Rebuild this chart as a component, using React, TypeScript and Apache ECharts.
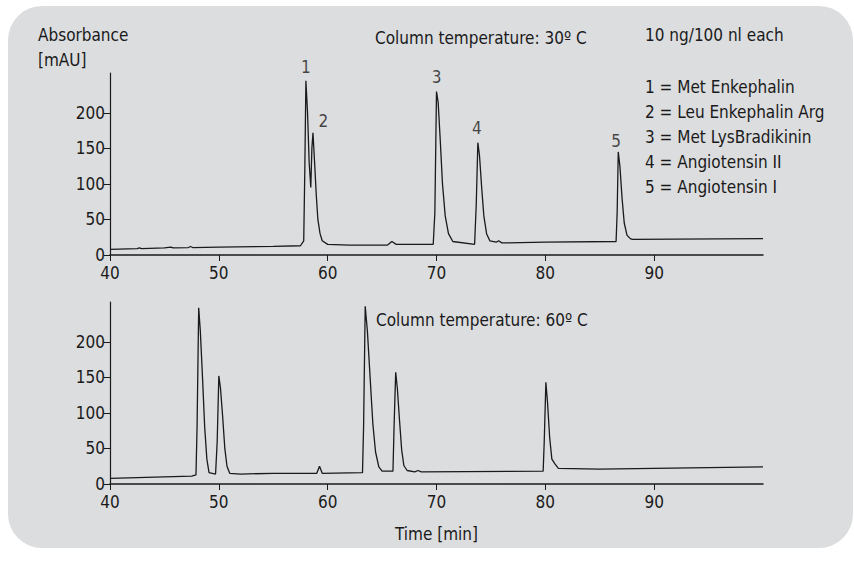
import React, { useEffect, useRef } from 'react';
import * as echarts from 'echarts';

// Chromatogram at 30 °C: [time min, absorbance mAU]
const trace30: [number, number][] = [
  [40, 8], [42.5, 9], [42.7, 10], [42.9, 9], [45, 10], [45.6, 11], [45.8, 10], [47.2, 10.5],
  [47.4, 12], [47.6, 10.5], [50, 11], [55, 12], [57.5, 13], [57.8, 20], [57.9, 120],
  [58.0, 245], [58.15, 200], [58.3, 130], [58.45, 95], [58.55, 150], [58.65, 172],
  [58.8, 130], [58.95, 85], [59.1, 50], [59.3, 30], [59.5, 20], [60, 15], [62, 14],
  [65.5, 14], [65.9, 19], [66.3, 15], [69.7, 15], [69.85, 60], [70.0, 230], [70.15, 215],
  [70.35, 160], [70.55, 100], [70.8, 55], [71.1, 30], [71.5, 19], [73.5, 15], [73.65, 70],
  [73.8, 158], [73.95, 140], [74.15, 95], [74.35, 55], [74.6, 30], [74.9, 20], [75.5, 18],
  [75.7, 20], [76, 17], [80, 18], [86.5, 19], [86.6, 60], [86.7, 145], [86.85, 125],
  [87.05, 80], [87.25, 45], [87.5, 28], [87.8, 23], [88, 22], [100, 23],
];

// Chromatogram at 60 °C
const trace60: [number, number][] = [
  [40, 8], [45, 10], [47.5, 11], [47.9, 13], [48.0, 80], [48.15, 248], [48.3, 215],
  [48.5, 150], [48.7, 80], [48.9, 35], [49.1, 16], [49.7, 14], [49.85, 60], [50.0, 152],
  [50.15, 135], [50.35, 95], [50.55, 50], [50.75, 25], [51, 15], [52, 14], [55, 15],
  [59, 15], [59.25, 25], [59.5, 15], [63.2, 16], [63.3, 80], [63.45, 250], [63.65, 215],
  [63.9, 150], [64.15, 85], [64.4, 45], [64.7, 24], [65, 18], [66, 18], [66.1, 80],
  [66.25, 157], [66.4, 135], [66.6, 90], [66.8, 48], [67.0, 26], [67.3, 19], [68, 17],
  [68.3, 19], [68.6, 17], [79.8, 18], [79.9, 60], [80.05, 143], [80.2, 115], [80.4, 65],
  [80.6, 35], [80.9, 28], [81.2, 22], [85, 21], [100, 24],
];

// Peak number labels (top chart)
const peakLabels: [number, number, string][] = [
  [58, 264, '1'], [59.6, 188, '2'], [70, 250, '3'], [73.7, 178, '4'], [86.5, 160, '5'],
];

const legendLines = [
  '1 = Met Enkephalin',
  '2 = Leu Enkephalin Arg',
  '3 = Met LysBradikinin',
  '4 = Angiotensin II',
  '5 = Angiotensin I',
];

const xTicks = [40, 50, 60, 70, 80, 90];
const yTicks = [0, 50, 100, 150, 200];

const FONT = '"Liberation Sans Narrow", "DejaVu Sans Condensed", sans-serif';
const INK = '#1a1a1a';

function xAxis(gridIndex: number, name?: string) {
  return {
    type: 'value', gridIndex, min: 40, max: 100, interval: 10, offset: 3,
    name, nameLocation: 'middle', nameGap: 38,
    nameTextStyle: { color: INK, fontSize: 17, fontFamily: FONT },
    axisLine: { lineStyle: { color: INK, width: 1.5 } },
    axisTick: { customValues: xTicks, length: 6, lineStyle: { color: INK } },
    axisLabel: { customValues: xTicks, color: INK, fontSize: 17, fontFamily: FONT, margin: 6 },
    splitLine: { show: false },
  };
}

function yAxis(gridIndex: number) {
  return {
    type: 'value', gridIndex, min: 0, max: 256,
    axisLine: { show: true, lineStyle: { color: INK, width: 1.2 } },
    axisTick: { show: true, customValues: yTicks, length: 6, lineStyle: { color: INK } },
    axisLabel: { customValues: yTicks, color: INK, fontSize: 17, fontFamily: FONT, margin: 5 },
    splitLine: { show: false },
  };
}

const text = (x: number, y: number, t: string) => ({
  type: 'text', x, y,
  style: { text: t, fill: INK, fontSize: 17, fontFamily: FONT, textVerticalAlign: 'middle' },
});

export default function App() {
  const ref = useRef<HTMLDivElement>(null);

  useEffect(() => {
    document.body.style.margin = '0';
    if (!ref.current) return;
    const chart = echarts.init(ref.current, null, { renderer: 'svg' });
    chart.setOption({
      animation: false,
      backgroundColor: '#ffffff',
      grid: [
        { left: 110, right: 91, top: 73, height: 182 },
        { left: 110, right: 91, top: 302, height: 182 },
      ],
      xAxis: [xAxis(0), xAxis(1, 'Time [min]')],
      yAxis: [yAxis(0), yAxis(1)],
      graphic: [
        {
          type: 'rect', z: -10, silent: true,
          shape: { x: 8, y: 6, width: 845, height: 542, r: 34 },
          style: { fill: '#dcdddf' },
        },
        text(38, 35, 'Absorbance'),
        text(38, 60, '[mAU]'),
        text(375, 38, 'Column temperature: 30º C'),
        text(645, 35, '10 ng/100 nl each'),
        ...legendLines.map((l, i) => text(645, 87 + i * 25, l)),
        text(376, 320, 'Column temperature: 60º C'),
      ],
      series: [
        {
          type: 'line', xAxisIndex: 0, yAxisIndex: 0, data: trace30, showSymbol: false,
          lineStyle: { color: INK, width: 1.3 },
        },
        {
          type: 'line', xAxisIndex: 1, yAxisIndex: 1, data: trace60, showSymbol: false,
          lineStyle: { color: INK, width: 1.3 },
        },
        {
          type: 'scatter', xAxisIndex: 0, yAxisIndex: 0, symbolSize: 0, clip: false,
          data: peakLabels.map(([x, y, t]) => ({ value: [x, y], name: t })),
          label: {
            show: true, position: 'inside', formatter: '{b}',
            color: INK, fontSize: 17, fontFamily: FONT,
          },
        },
      ],
    });
    return () => chart.dispose();
  }, []);

  return <div ref={ref} style={{ width: 854, height: 561 }} />;
}
